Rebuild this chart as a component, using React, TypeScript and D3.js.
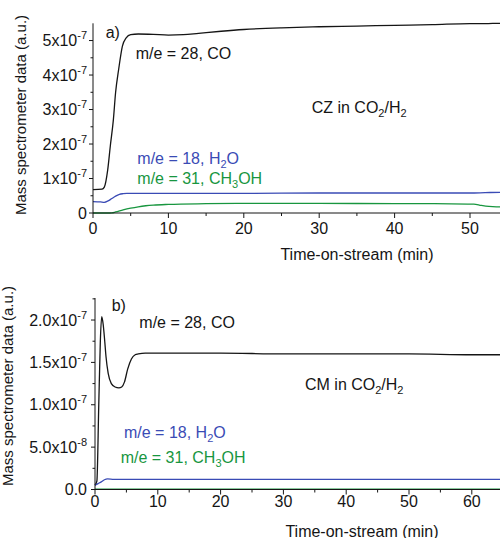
import React from "react";
import * as d3 from "d3";

// ---------- Panel a (CZ in CO2/H2) ----------
const aCOTime = [0, 1.2, 1.5, 1.95, 2.3, 2.7, 3.0, 3.4, 3.9, 4.4, 5.0, 6, 8, 10, 12, 14, 17, 20, 25, 30, 35, 40, 45, 50, 52, 54, 57];
const aCO = [0.68, 0.69, 0.75, 1.25, 1.95, 2.7, 3.5, 4.16, 4.84, 5.08, 5.17, 5.19, 5.18, 5.16, 5.17, 5.21, 5.27, 5.32, 5.37, 5.4, 5.42, 5.44, 5.46, 5.49, 5.49, 5.5, 5.5];
const aH2OTime = [0, 1, 1.5, 2, 2.5, 3, 3.5, 4, 4.5, 5, 10, 20, 30, 40, 50, 52, 54, 57];
const aH2O = [0.33, 0.32, 0.31, 0.35, 0.42, 0.49, 0.54, 0.56, 0.57, 0.57, 0.57, 0.57, 0.58, 0.58, 0.58, 0.59, 0.6, 0.6];
const aMeOHTime = [0, 2, 2.5, 3, 4, 5, 6, 7, 8, 10, 15, 20, 25, 30, 40, 45, 50, 50.5, 51.5, 52.5, 53.5, 57];
const aMeOH = [0, 0, 0.005, 0.03, 0.09, 0.14, 0.18, 0.21, 0.23, 0.25, 0.27, 0.28, 0.28, 0.28, 0.27, 0.27, 0.26, 0.26, 0.22, 0.19, 0.18, 0.18];
const aScale = 1e-7;

const aXTicks = [0, 10, 20, 30, 40, 50, 60];
const aXMinor = [5, 15, 25, 35, 45, 55];
const aYTicks = [0, 1e-7, 2e-7, 3e-7, 4e-7, 5e-7];
const aYBase = ["0", "1x10", "2x10", "3x10", "4x10", "5x10"];
const aYExp = ["", "-7", "-7", "-7", "-7", "-7"];
const aYMinor = [0.5e-7, 1.5e-7, 2.5e-7, 3.5e-7, 4.5e-7];

// ---------- Panel b (CM in CO2/H2) ----------
const bCOTime = [0, 0.3, 0.6, 0.85, 1.07, 1.3, 1.55, 1.75, 2.1, 2.6, 3.2, 3.8, 4.25, 4.7, 5.2, 5.8, 6.4, 6.9, 8, 10, 20, 30, 40, 50, 60, 70];
const bCO = [0.05, 0.1, 1.0, 1.75, 2.04, 1.95, 1.75, 1.57, 1.37, 1.25, 1.21, 1.2, 1.21, 1.27, 1.42, 1.54, 1.59, 1.6, 1.61, 1.61, 1.61, 1.6, 1.6, 1.6, 1.59, 1.59];
const bH2OTime = [0, 0.5, 1, 1.5, 2, 3, 10, 20, 30, 40, 50, 60, 70];
const bH2O = [0.05, 0.07, 0.09, 0.115, 0.125, 0.12, 0.12, 0.12, 0.12, 0.12, 0.12, 0.12, 0.12];
const bMeOHTime = [0, 10, 20, 30, 40, 50, 60, 70];
const bMeOH = [0.005, 0.005, 0.005, 0.005, 0.005, 0.005, 0.005, 0.005];
const bScale = 1e-7;

const bXTicks = [0, 10, 20, 30, 40, 50, 60, 70];
const bXMinor = [5, 15, 25, 35, 45, 55, 65];
const bYTicks = [0, 5e-8, 1e-7, 1.5e-7, 2e-7];
const bYBase = ["0.0", "5.0x10", "1.0x10", "1.5x10", "2.0x10"];
const bYExp = ["", "-8", "-7", "-7", "-7"];
const bYMinor = [2.5e-8, 7.5e-8, 1.25e-7, 1.75e-7, 2.25e-7];

const BLACK = "#151515";
const BLUE = "#3a4bb5";
const GREEN = "#18963f";
const FONT = "'Liberation Sans', Arial, sans-serif";
const W = 500;
const H = 538;

type Series = { t: number[]; v: number[]; scale: number; color: string };

type PanelProps = {
  xDomain: [number, number];
  xRange: [number, number];
  yDomain: [number, number];
  yRange: [number, number];
  xTicks: number[];
  xMinor: number[];
  yTicks: number[];
  yBase: string[];
  yExp: string[];
  yMinor: number[];
  series: Series[];
  xLabelY: number;
  xTitleX: number;
  xTitleY: number;
  yTitleX: number;
  yTitleY: number;
  yTitleSize: number;
  labelRight: number;
};

function Panel(p: PanelProps) {
  const x = d3.scaleLinear().domain(p.xDomain).range(p.xRange);
  const y = d3.scaleLinear().domain(p.yDomain).range(p.yRange);
  const x0 = p.xRange[0];
  const y0 = p.yRange[0];
  const line = d3
    .line<[number, number]>()
    .x((d) => x(d[0]))
    .y((d) => y(d[1]))
    .curve(d3.curveMonotoneX);
  const visTicks = p.xTicks.filter((t) => x(t) + 12 < W);
  const visMinor = p.xMinor.filter((t) => x(t) < W);
  return (
    <g>
      {p.series.map((s, i) => (
        <path
          key={i}
          d={line(s.t.map((t, j) => [t, s.v[j] * s.scale] as [number, number])) || ""}
          fill="none"
          stroke={s.color}
          strokeWidth={1.3}
        />
      ))}
      {/* axes */}
      <line x1={x0} x2={x0} y1={p.yRange[1]} y2={y0} stroke={BLACK} strokeWidth={1} />
      <line x1={x0} x2={Math.min(p.xRange[1], W)} y1={y0} y2={y0} stroke={BLACK} strokeWidth={1} />
      {visTicks.map((t) => (
        <g key={"xt" + t}>
          <line x1={x(t)} x2={x(t)} y1={y0} y2={y0 + 5} stroke={BLACK} />
          <text x={x(t)} y={p.xLabelY} textAnchor="middle" fontSize={16} fontFamily={FONT} fill={BLACK}>
            {t}
          </text>
        </g>
      ))}
      {visMinor.map((t) => (
        <line key={"xm" + t} x1={x(t)} x2={x(t)} y1={y0} y2={y0 + 3} stroke={BLACK} />
      ))}
      {p.yTicks.map((v, i) => (
        <g key={"yt" + i}>
          <line x1={x0 - 4} x2={x0} y1={y(v)} y2={y(v)} stroke={BLACK} />
          <text x={p.labelRight} y={y(v) + 5.5} textAnchor="end" fontSize={16} fontFamily={FONT} fill={BLACK}>
            {p.yBase[i]}
            {p.yExp[i] ? (
              <tspan fontSize={11} dy={-7}>
                {p.yExp[i]}
              </tspan>
            ) : null}
          </text>
        </g>
      ))}
      {p.yMinor.map((v, i) => (
        <line key={"ym" + i} x1={x0 - 2.5} x2={x0} y1={y(v)} y2={y(v)} stroke={BLACK} />
      ))}
      <text x={p.xTitleX} y={p.xTitleY} textAnchor="middle" fontSize={16} fontFamily={FONT} fill={BLACK}>
        Time-on-stream (min)
      </text>
      <text
        transform={`translate(${p.yTitleX},${p.yTitleY}) rotate(-90)`}
        textAnchor="middle"
        fontSize={p.yTitleSize}
        fontFamily={FONT}
        fill={BLACK}
      >
        Mass spectrometer data (a.u.)
      </text>
    </g>
  );
}

function Label({ x, y, color, parts }: { x: number; y: number; color: string; parts: [string, boolean][] }) {
  let prevSub = false;
  return (
    <text x={x} y={y} fontSize={16} fontFamily={FONT} fill={color}>
      {parts.map(([s, sub], i) => {
        let dy = 0;
        if (sub && !prevSub) dy = 4;
        if (!sub && prevSub) dy = -4;
        prevSub = sub;
        return (
          <tspan key={i} dy={dy} fontSize={sub ? 11 : 16}>
            {s}
          </tspan>
        );
      })}
    </text>
  );
}

export default function App() {
  return (
    <svg
      width={W}
      height={H}
      style={{ position: "absolute", left: 0, top: 0, background: "#fff" }}
    >
      <rect width={W} height={H} fill="#fff" />
      <Panel
        xDomain={[0, 60]}
        xRange={[93, 545.4]}
        yDomain={[0, 5.5e-7]}
        yRange={[213, 23.3]}
        xTicks={aXTicks}
        xMinor={aXMinor}
        yTicks={aYTicks}
        yBase={aYBase}
        yExp={aYExp}
        yMinor={aYMinor}
        series={[
          { t: aCOTime, v: aCO, scale: aScale, color: BLACK },
          { t: aH2OTime, v: aH2O, scale: aScale, color: BLUE },
          { t: aMeOHTime, v: aMeOH, scale: aScale, color: GREEN },
        ]}
        xLabelY={233.5}
        xTitleX={357}
        xTitleY={260}
        yTitleX={26}
        yTitleY={115}
        yTitleSize={15}
        labelRight={87}
      />
      <Panel
        xDomain={[0, 70]}
        xRange={[95, 534.6]}
        yDomain={[0, 2.26e-7]}
        yRange={[489.5, 298]}
        xTicks={bXTicks}
        xMinor={bXMinor}
        yTicks={bYTicks}
        yBase={bYBase}
        yExp={bYExp}
        yMinor={bYMinor}
        series={[
          { t: bCOTime, v: bCO, scale: bScale, color: BLACK },
          { t: bH2OTime, v: bH2O, scale: bScale, color: BLUE },
          { t: bMeOHTime, v: bMeOH, scale: bScale, color: GREEN },
        ]}
        xLabelY={507}
        xTitleX={362}
        xTitleY={536.5}
        yTitleX={12.5}
        yTitleY={386}
        yTitleSize={15}
        labelRight={87}
      />
      <Label x={105.7} y={37.5} color={BLACK} parts={[["a)", false]]} />
      <Label x={135.7} y={59} color={BLACK} parts={[["m/e = 28, CO", false]]} />
      <Label x={311.7} y={113} color={BLACK} parts={[["CZ in CO", false], ["2", true], ["/H", false], ["2", true]]} />
      <Label x={137.3} y={163.5} color={BLUE} parts={[["m/e = 18, H", false], ["2", true], ["O", false]]} />
      <Label x={137.3} y={183.5} color={GREEN} parts={[["m/e = 31, CH", false], ["3", true], ["OH", false]]} />

      <Label x={111.7} y={311} color={BLACK} parts={[["b)", false]]} />
      <Label x={139.3} y={328} color={BLACK} parts={[["m/e = 28, CO", false]]} />
      <Label x={305} y={390} color={BLACK} parts={[["CM in CO", false], ["2", true], ["/H", false], ["2", true]]} />
      <Label x={124} y={438.3} color={BLUE} parts={[["m/e = 18, H", false], ["2", true], ["O", false]]} />
      <Label x={120.7} y={463} color={GREEN} parts={[["m/e = 31, CH", false], ["3", true], ["OH", false]]} />
    </svg>
  );
}
